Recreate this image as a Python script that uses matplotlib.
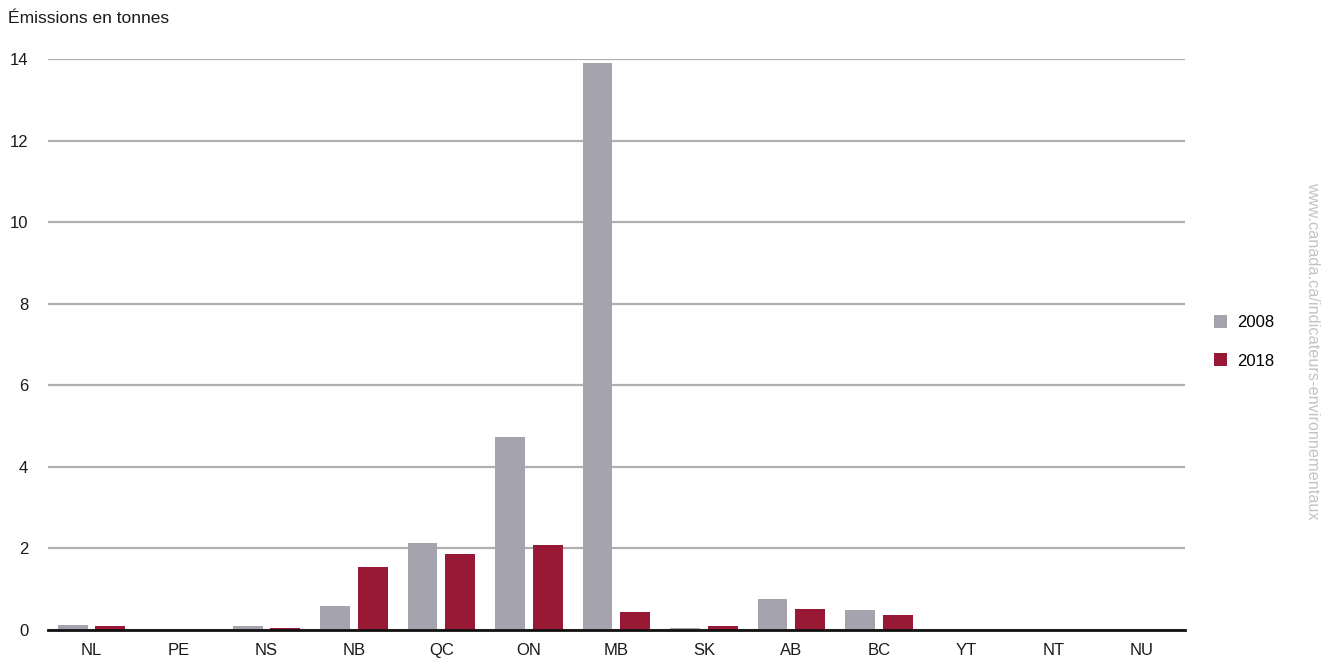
import matplotlib
matplotlib.use("Agg")
import matplotlib.pyplot as plt
import numpy as np

provinces = ["NL", "PE", "NS", "NB", "QC", "ON", "MB", "SK", "AB", "BC", "YT", "NT", "NU"]
emissions_2008 = [0.12, 0.0, 0.10, 0.59, 2.13, 4.73, 13.92, 0.04, 0.76, 0.49, 0.0, 0.0, 0.0]
emissions_2018 = [0.10, 0.0, 0.04, 1.54, 1.86, 2.08, 0.44, 0.10, 0.51, 0.37, 0.0, 0.0, 0.0]
years = ["2008", "2018"]
y_ticks = [0, 2, 4, 6, 8, 10, 12, 14]

color_2008 = "#a4a3ae"
color_2018 = "#981936"

plt.rcParams["font.family"] = ["Liberation Sans", "DejaVu Sans"]

fig = plt.figure(figsize=(13.27, 6.59), dpi=100)
ax = fig.add_axes([0.036, 0.044, 0.857, 0.866])

x = np.arange(len(provinces))
w = 0.34
gap = 0.09
ax.bar(x - (w + gap) / 2, emissions_2008, w, color=color_2008, label=years[0], zorder=3)
ax.bar(x + (w + gap) / 2, emissions_2018, w, color=color_2018, label=years[1], zorder=3)

ax.set_xlim(-0.5, len(provinces) - 0.5)
ax.set_ylim(0, 14)
ax.set_yticks(y_ticks)
ax.set_yticklabels([str(t) for t in y_ticks])
ax.set_xticks(x)
ax.set_xticklabels(provinces)
ax.tick_params(axis="both", length=0, labelsize=12, colors="#1a1a1a")
ax.tick_params(axis="x", pad=9)
ax.tick_params(axis="y", pad=14)

ax.grid(axis="y", color="#b0b0b0", linewidth=1.6, zorder=0)
for side in ["top", "right", "left"]:
    ax.spines[side].set_visible(False)
ax.spines["bottom"].set_color("#111111")
ax.spines["bottom"].set_linewidth(2)
ax.spines["bottom"].set_zorder(4)

fig.text(0.006, 0.972, "Émissions en tonnes", fontsize=12.5, color="#1a1a1a",
         ha="left", va="center")

leg = ax.legend(loc="center left", bbox_to_anchor=(1.012, 0.505), frameon=False,
                fontsize=12, handlelength=0.8, handleheight=0.8,
                labelspacing=1.4, handletextpad=0.6)

fig.text(0.989, 0.467, "www.canada.ca/indicateurs-environnementaux", rotation=270,
         fontsize=11.7, color="#c4c4c4", ha="center", va="center")

fig.savefig("out.png", dpi=100)
